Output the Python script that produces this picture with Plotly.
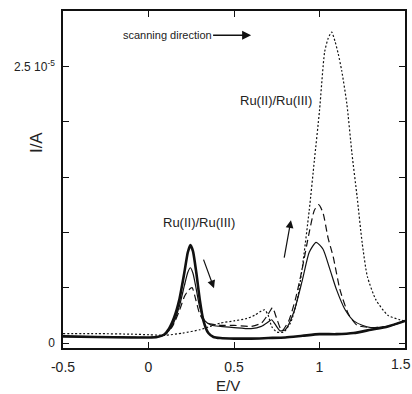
import plotly.graph_objects as go

# ---- data (current in units of 1e-6 A) ----
thick_x = [-0.5, -0.3, -0.1, 0.0, 0.05, 0.09, 0.12, 0.15, 0.18, 0.21, 0.23, 0.245, 0.26, 0.28, 0.30, 0.32, 0.35, 0.38, 0.42, 0.5, 0.6, 0.7, 0.8, 0.9, 1.0, 1.1, 1.2, 1.3, 1.4, 1.5]
thick_y = [0.6, 0.55, 0.5, 0.5, 0.55, 0.75, 1.3, 2.3, 3.9, 6.4, 8.2, 8.85, 8.3, 6.3, 3.9, 2.1, 0.9, 0.55, 0.45, 0.4, 0.4, 0.45, 0.5, 0.65, 0.8, 0.8, 0.9, 1.2, 1.5, 2.0]

thin_x = [-0.5, -0.2, 0.0, 0.05, 0.1, 0.14, 0.18, 0.21, 0.23, 0.245, 0.26, 0.28, 0.30, 0.33, 0.37, 0.42, 0.5, 0.6, 0.66, 0.7, 0.72, 0.74, 0.77, 0.8, 0.85, 0.9, 0.94, 0.98, 1.02, 1.06, 1.1, 1.15, 1.2, 1.25, 1.3, 1.4, 1.5]
thin_y = [0.6, 0.55, 0.5, 0.55, 0.8, 1.6, 3.3, 5.2, 6.4, 6.8, 6.3, 4.8, 3.2, 2.0, 1.6, 1.5, 1.4, 1.3, 1.5, 1.9, 2.1, 1.7, 1.1, 1.2, 2.8, 5.7, 8.2, 9.1, 8.5, 6.7, 4.8, 3.0, 2.0, 1.6, 1.4, 1.5, 2.0]

dash_x = [-0.5, -0.2, 0.0, 0.05, 0.1, 0.14, 0.18, 0.21, 0.235, 0.255, 0.275, 0.30, 0.33, 0.37, 0.42, 0.5, 0.6, 0.66, 0.7, 0.725, 0.75, 0.78, 0.82, 0.86, 0.9, 0.94, 0.97, 0.995, 1.02, 1.05, 1.08, 1.12, 1.17, 1.22, 1.3, 1.4, 1.5]
dash_y = [0.6, 0.55, 0.5, 0.55, 0.8, 1.5, 2.9, 4.2, 4.8, 5.0, 4.0, 2.6, 1.9, 1.7, 1.6, 1.6, 1.5, 1.8, 2.6, 3.2, 2.2, 1.1, 2.0, 4.0, 6.8, 10.0, 12.0, 12.5, 11.8, 9.5, 7.8, 4.8, 2.6, 1.6, 1.4, 1.5, 2.0]

dot_x = [-0.5, -0.3, -0.1, 0.0, 0.1, 0.2, 0.3, 0.36, 0.42, 0.5, 0.57, 0.62, 0.66, 0.68, 0.7, 0.72, 0.75, 0.79, 0.83, 0.87, 0.9, 0.94, 0.97, 1.0, 1.03, 1.05, 1.071, 1.09, 1.11, 1.13, 1.16, 1.19, 1.22, 1.25, 1.28, 1.33, 1.4, 1.47, 1.5]
dot_y = [0.85, 0.85, 0.8, 0.75, 0.7, 0.9, 1.2, 1.5, 1.8, 2.0, 2.2, 2.5, 2.9, 3.0, 2.5, 1.5, 1.0, 1.0, 1.8, 3.9, 6.9, 12.0, 16.5, 21.0, 26.3, 27.5, 28.1, 27.3, 26.1, 24.6, 21.6, 17.1, 13.2, 9.0, 6.0, 3.9, 2.5, 2.1, 2.0]

x_ticks = [-0.5, 0, 0.5, 1, 1.5]
x_ticktext = ["-0.5", "0", "0.5", "1", "1.5"]
y_ticks = [0, 5e-6, 10e-6, 15e-6, 20e-6, 25e-6]
y_ticktext = ["0", "", "", "", "", "2.5 10<sup>-5</sup>"]

S = 1e-6
fig = go.Figure()
fig.add_trace(go.Scatter(x=dot_x, y=[v * S for v in dot_y], mode="lines",
                         line=dict(color="#111", width=1.2, dash="2px,2px", shape="spline", smoothing=0.6)))
fig.add_trace(go.Scatter(x=dash_x, y=[v * S for v in dash_y], mode="lines",
                         line=dict(color="#111", width=1.2, dash="7px,4px", shape="spline", smoothing=0.6)))
fig.add_trace(go.Scatter(x=thin_x, y=[v * S for v in thin_y], mode="lines",
                         line=dict(color="#111", width=1.2, shape="spline", smoothing=0.6)))
fig.add_trace(go.Scatter(x=thick_x, y=[v * S for v in thick_y], mode="lines",
                         line=dict(color="#111", width=2.6, shape="spline", smoothing=0.6)))

font = "Liberation Sans, Arial, sans-serif"
axcommon = dict(showline=True, linecolor="#111", linewidth=1.5, mirror="allticks",
                ticks="inside", ticklen=6, tickcolor="#111", tickwidth=1.2, automargin=False,
                showgrid=False, zeroline=False)

# last x label is drawn as an annotation nudged to stay inside the page
x_ticktext_axis = x_ticktext[:-1] + [""]

fig.update_layout(
    width=412, height=394, margin=dict(l=63, r=7, t=11, b=46),
    plot_bgcolor="white", paper_bgcolor="white", showlegend=False,
    font=dict(family=font, color="#222"),
    xaxis=dict(range=[-0.5, 1.5], tickvals=x_ticks, ticktext=x_ticktext_axis, ticklabelstandoff=5,
               tickfont=dict(size=14, color="#222", family=font), **axcommon),
    yaxis=dict(range=[-0.45e-6, 3.0e-5], tickvals=y_ticks, ticktext=y_ticktext, ticklabelstandoff=4,
               tickfont=dict(size=12, color="#222", family=font), **axcommon),
)

fig.add_annotation(x=x_ticks[-1], xref="x", yref="paper", y=0, yshift=-16, xshift=-4, text=x_ticktext[-1],
                   showarrow=False, font=dict(size=14, color="#222"), xanchor="center", yanchor="middle")

# axis titles
fig.add_annotation(xref="paper", yref="paper", x=0.482, y=-0.11, text="E/V", showarrow=False,
                   font=dict(size=15, color="#222"), xanchor="center", yanchor="middle")
fig.add_annotation(xref="paper", yref="paper", x=-0.079, y=0.611, text="I/A", showarrow=False,
                   textangle=-90, font=dict(size=17, color="#222"), xanchor="center", yanchor="middle")

# text labels and arrows
fig.add_annotation(x=0.60, y=27.8e-6, ax=-84, ay=0, text="scanning direction", showarrow=True,
                   arrowhead=2, arrowsize=1.2, arrowwidth=1.5, arrowcolor="#111",
                   font=dict(size=11, color="#222"))
fig.add_annotation(x=0.746, y=21.9e-6, text="Ru(II)/Ru(III)", showarrow=False,
                   font=dict(size=13, color="#222"))
fig.add_annotation(x=0.295, y=10.9e-6, text="Ru(II)/Ru(III)", showarrow=False,
                   font=dict(size=13, color="#222"))
fig.add_annotation(x=0.383, y=4.96e-6, ax=-11, ay=-30, text="", showarrow=True,
                   arrowhead=2, arrowsize=1.3, arrowwidth=1.2, arrowcolor="#111")
fig.add_annotation(x=0.833, y=11.1e-6, ax=-7, ay=39, text="", showarrow=True,
                   arrowhead=2, arrowsize=1.3, arrowwidth=1.2, arrowcolor="#111")

fig.write_html("out.html")
